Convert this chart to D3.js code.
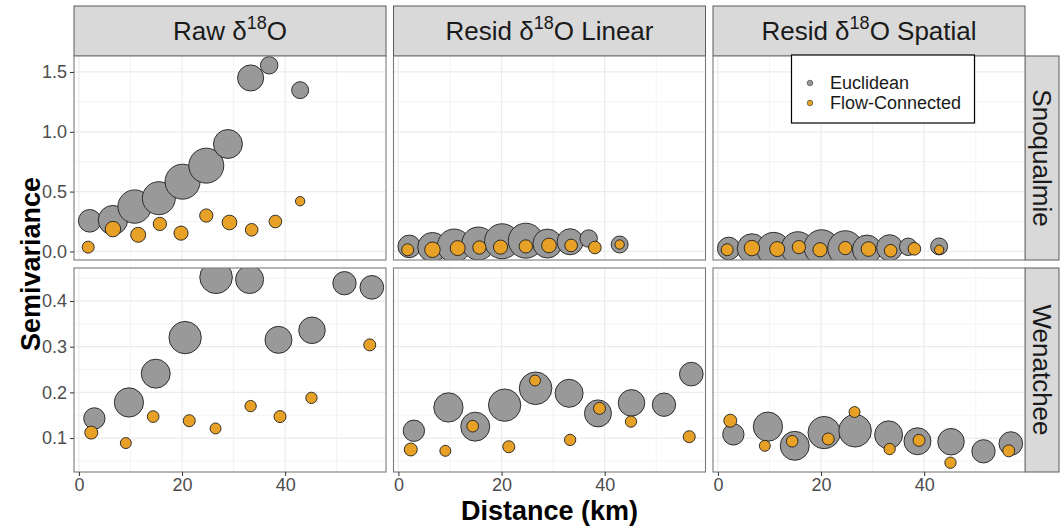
<!DOCTYPE html>
<html>
<head>
<meta charset="utf-8">
<script src="https://cdn.jsdelivr.net/npm/d3@7"></script>
<style>
  html, body { margin: 0; padding: 0; background: #ffffff; }
  svg { display: block; font-family: "Liberation Sans", Arial, Helvetica, sans-serif; }
</style>
</head>
<body>
<svg id="chart" width="1060" height="532"></svg>
<script>
// ---------------- DATA ----------------
const columnKeys = ["Raw", "Linear", "Spatial"];
const stripPrefix = ["Raw ", "Resid ", "Resid "];
const stripSuffix = ["", " Linear", " Spatial"];
const basins = ["Snoqualmie", "Wenatchee"];
const seriesNames = ["Euclidean", "Flow-Connected"];
const xTicks = [0, 20, 40];
const xMinorTicks = [10, 30, 50];
const yTicksSnoqualmie = [0.0, 0.5, 1.0, 1.5];
const yMinorSnoqualmie = [0.25, 0.75, 1.25];
const yTicksWenatchee = [0.1, 0.2, 0.3, 0.4];
const yMinorWenatchee = [0.05, 0.15, 0.25, 0.35, 0.45];

// distance bins (km) and number of pairs, per basin and distance type
const snoqEucDist  = [2.1, 6.6, 10.8, 15.5, 20.1, 24.7, 28.9, 33.3, 36.9, 42.9];
const snoqEucPairs = [64, 108, 139, 136, 153, 153, 105, 85, 38, 36];
const snoqFlowDist  = [1.8, 6.6, 11.5, 15.7, 19.8, 24.7, 29.2, 33.5, 38.1, 42.9];
const snoqFlowPairs = [18, 30, 28, 22, 25, 22, 27, 20, 20, 11];
const wenEucDist  = [3.0, 9.7, 14.9, 20.6, 26.6, 33.1, 38.7, 45.2, 51.5, 56.8];
const wenEucPairs = [57, 107, 105, 131, 133, 98, 91, 88, 68, 70];
const wenFlowDist  = [2.4, 9.1, 14.4, 21.4, 26.5, 33.3, 39.0, 45.1, 56.4];
const wenFlowPairs = [21, 15, 17, 18, 15, 16, 18, 16, 18];

// semivariance values
const rawSnoqEuc  = [0.256, 0.262, 0.375, 0.445, 0.583, 0.717, 0.898, 1.45, 1.556, 1.348];
const rawSnoqFlow = [0.036, 0.187, 0.139, 0.230, 0.153, 0.300, 0.242, 0.181, 0.250, 0.420];
const linSnoqEuc  = [0.042, 0.036, 0.048, 0.066, 0.085, 0.090, 0.066, 0.081, 0.108, 0.058];
const linSnoqFlow = [0.014, 0.014, 0.028, 0.033, 0.036, 0.042, 0.050, 0.050, 0.033, 0.058];
const spaSnoqEuc  = [0.025, 0.025, 0.020, 0.027, 0.035, 0.027, 0.016, 0.031, 0.039, 0.042];
const spaSnoqFlow = [0.014, 0.028, 0.020, 0.036, 0.014, 0.028, 0.020, 0.006, 0.022, 0.014];

const rawWenEuc  = [0.143, 0.178, 0.241, 0.320, 0.452, 0.447, 0.315, 0.336, 0.439, 0.430];
const rawWenFlow = [0.112, 0.089, 0.147, 0.138, 0.121, 0.170, 0.147, 0.188, 0.304];
const linWenEuc  = [0.116, 0.167, 0.125, 0.172, 0.209, 0.198, 0.154, 0.177, 0.173, 0.240];
const linWenFlow = [0.075, 0.072, 0.126, 0.081, 0.226, 0.096, 0.165, 0.136, 0.103];
const spaWenEuc  = [0.108, 0.125, 0.083, 0.112, 0.116, 0.107, 0.093, 0.092, 0.071, 0.088];
const spaWenFlow = [0.138, 0.083, 0.093, 0.098, 0.157, 0.076, 0.095, 0.046, 0.072];

// ---------------- BUILD TABLE ----------------
const distTable = {
  Snoqualmie: { Euclidean: [snoqEucDist, snoqEucPairs], "Flow-Connected": [snoqFlowDist, snoqFlowPairs] },
  Wenatchee:  { Euclidean: [wenEucDist, wenEucPairs],   "Flow-Connected": [wenFlowDist, wenFlowPairs] }
};
const valTable = {
  Snoqualmie: {
    Raw:     { Euclidean: rawSnoqEuc, "Flow-Connected": rawSnoqFlow },
    Linear:  { Euclidean: linSnoqEuc, "Flow-Connected": linSnoqFlow },
    Spatial: { Euclidean: spaSnoqEuc, "Flow-Connected": spaSnoqFlow }
  },
  Wenatchee: {
    Raw:     { Euclidean: rawWenEuc, "Flow-Connected": rawWenFlow },
    Linear:  { Euclidean: linWenEuc, "Flow-Connected": linWenFlow },
    Spatial: { Euclidean: spaWenEuc, "Flow-Connected": spaWenFlow }
  }
};

// ---------------- LAYOUT ----------------
const svg = d3.select("#chart");
const panelLeft = 74, panelW = 312, panelGap = 7.5;
const rowTop = [56, 268], panelH = 204;
const stripTop = 6, stripH = 50;
const rStripX = 1025, rStripW = 34;

const colors = { "Euclidean": "#999999", "Flow-Connected": "#E6A126" };
const gridCol = "#ebebeb";
const borderCol = "#7a7a7a";
const stripBorder = "#5a5a5a";
const tickTextCol = "#4d4d4d";

const xDomain = [-0.95, 59.55];
const yDomains = { Snoqualmie: [-0.0715, 1.6335], Wenatchee: [0.0257, 0.4723] };
const yTicks = { Snoqualmie: yTicksSnoqualmie, Wenatchee: yTicksWenatchee };
const yMinor = { Snoqualmie: yMinorSnoqualmie, Wenatchee: yMinorWenatchee };

const allPairs = [].concat(snoqEucPairs, snoqFlowPairs, wenEucPairs, wenFlowPairs);
const rScale = d3.scaleSqrt().domain([0, d3.max(allPairs)]).range([0, 17.5]);

const defs = svg.append("defs");

// Column strips
columnKeys.forEach((ck, ci) => {
  const x0 = panelLeft + ci * (panelW + panelGap);
  svg.append("rect").attr("x", x0).attr("y", stripTop).attr("width", panelW).attr("height", stripH)
    .attr("fill", "#d9d9d9").attr("stroke", stripBorder).attr("stroke-width", 1);
  const t = svg.append("text").attr("x", x0 + panelW / 2).attr("y", stripTop + stripH / 2 + 9)
    .attr("text-anchor", "middle").attr("font-size", 26).attr("fill", "#1a1a1a")
    .style("white-space", "pre");
  t.append("tspan").text(stripPrefix[ci] + "δ");
  t.append("tspan").attr("font-size", 18).attr("dy", -11).text("18");
  t.append("tspan").attr("dy", 11).text("O" + stripSuffix[ci]);
});

// Row strips
basins.forEach((b, ri) => {
  const y0 = rowTop[ri];
  svg.append("rect").attr("x", rStripX).attr("y", y0).attr("width", rStripW).attr("height", panelH)
    .attr("fill", "#d9d9d9").attr("stroke", stripBorder).attr("stroke-width", 1);
  svg.append("text")
    .attr("transform", `translate(${rStripX + rStripW / 2},${y0 + panelH / 2}) rotate(90)`)
    .attr("text-anchor", "middle").attr("dominant-baseline", "central")
    .attr("font-size", 26).attr("fill", "#1a1a1a").text(b);
});

// Panels
basins.forEach((b, ri) => {
  const y0 = rowTop[ri];
  const y = d3.scaleLinear().domain(yDomains[b]).range([y0 + panelH, y0]);
  columnKeys.forEach((ck, ci) => {
    const x0 = panelLeft + ci * (panelW + panelGap);
    const x = d3.scaleLinear().domain(xDomain).range([x0, x0 + panelW]);
    const g = svg.append("g");
    g.append("rect").attr("x", x0).attr("y", y0).attr("width", panelW).attr("height", panelH).attr("fill", "#fff");
    // minor grid
    g.selectAll(".xmin").data(xMinorTicks).enter().append("line")
      .attr("x1", d => x(d)).attr("x2", d => x(d)).attr("y1", y0).attr("y2", y0 + panelH)
      .attr("stroke", gridCol).attr("stroke-width", 0.6);
    g.selectAll(".ymin").data(yMinor[b]).enter().append("line")
      .attr("x1", x0).attr("x2", x0 + panelW).attr("y1", d => y(d)).attr("y2", d => y(d))
      .attr("stroke", gridCol).attr("stroke-width", 0.6);
    // major grid
    g.selectAll(".xmaj").data(xTicks).enter().append("line")
      .attr("x1", d => x(d)).attr("x2", d => x(d)).attr("y1", y0).attr("y2", y0 + panelH)
      .attr("stroke", gridCol).attr("stroke-width", 1.2);
    g.selectAll(".ymaj").data(yTicks[b]).enter().append("line")
      .attr("x1", x0).attr("x2", x0 + panelW).attr("y1", d => y(d)).attr("y2", d => y(d))
      .attr("stroke", gridCol).attr("stroke-width", 1.2);

    const clipId = `clip-${ri}-${ci}`;
    defs.append("clipPath").attr("id", clipId).append("rect")
      .attr("x", x0).attr("y", y0).attr("width", panelW).attr("height", panelH);
    const pts = g.append("g").attr("clip-path", `url(#${clipId})`);
    seriesNames.forEach(s => {
      const [dists, pairs] = distTable[b][s];
      const vals = valTable[b][ck][s];
      const data = vals.map((v, i) => ({ d: dists[i], v: v, n: pairs[i] }));
      pts.selectAll(null).data(data).enter().append("circle")
        .attr("cx", d => x(d.d)).attr("cy", d => y(d.v)).attr("r", d => rScale(d.n))
        .attr("fill", colors[s]).attr("stroke", "#1f1f1f").attr("stroke-width", 0.9);
    });
    g.append("rect").attr("x", x0).attr("y", y0).attr("width", panelW).attr("height", panelH)
      .attr("fill", "none").attr("stroke", borderCol).attr("stroke-width", 1.1);

    // y axis on first column
    if (ci === 0) {
      const ax = svg.append("g").attr("transform", `translate(${x0},0)`)
        .call(d3.axisLeft(y).tickValues(yTicks[b]).tickFormat(d3.format(".1f")).tickSize(4).tickPadding(3));
      ax.select(".domain").remove();
      ax.selectAll(".tick line").attr("stroke", "#333");
      ax.selectAll(".tick text").attr("font-size", 18).attr("fill", tickTextCol)
        .attr("font-family", "Liberation Sans, Arial, sans-serif");
    }
    // x axis on bottom row
    if (ri === basins.length - 1) {
      const ax = svg.append("g").attr("transform", `translate(0,${y0 + panelH})`)
        .call(d3.axisBottom(x).tickValues(xTicks).tickFormat(d3.format("d")).tickSize(4).tickPadding(2));
      ax.select(".domain").remove();
      ax.selectAll(".tick line").attr("stroke", "#333");
      ax.selectAll(".tick text").attr("font-size", 18).attr("fill", tickTextCol)
        .attr("font-family", "Liberation Sans, Arial, sans-serif");
    }
  });
});

// Axis titles
svg.append("text").attr("x", panelLeft + (3 * panelW + 2 * panelGap) / 2).attr("y", 519.5)
  .attr("text-anchor", "middle").attr("font-size", 27).attr("font-weight", "bold").attr("fill", "#000")
  .text("Distance (km)");
svg.append("text").attr("transform", `translate(40,${(rowTop[0] + rowTop[1] + panelH) / 2}) rotate(-90)`)
  .attr("text-anchor", "middle").attr("font-size", 27).attr("font-weight", "bold").attr("fill", "#000")
  .text("Semivariance");

// Legend
const lg = svg.append("g").attr("transform", "translate(791.5,55)");
lg.append("rect").attr("width", 183).attr("height", 68).attr("fill", "#fff")
  .attr("stroke", "#000").attr("stroke-width", 1.2);
seriesNames.forEach((s, i) => {
  lg.append("circle").attr("cx", 18.5).attr("cy", 28 + i * 20).attr("r", 2.8)
    .attr("fill", colors[s]).attr("stroke", "#333").attr("stroke-width", 0.6);
  lg.append("text").attr("x", 38.5).attr("y", 28 + i * 20).attr("dy", "0.35em")
    .attr("font-size", 18).attr("fill", "#1a1a1a").text(s);
});
</script>
</body>
</html>
